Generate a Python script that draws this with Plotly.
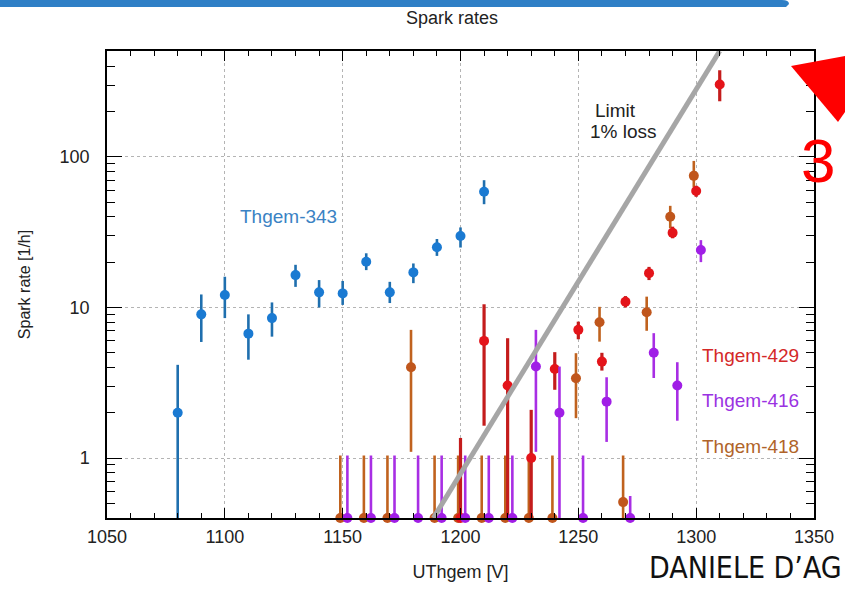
import plotly.graph_objects as go

# ---- measured spark rates [1/h] vs THGEM voltage [V] ----
# Thgem-343
v_343 = [1080, 1090, 1100, 1110, 1120, 1130, 1140, 1150, 1160, 1170, 1180, 1190, 1200, 1210]
rate_343 = [2.0, 9.0, 12.1, 6.7, 8.5, 16.4, 12.6, 12.4, 20.1, 12.6, 17.1, 25.1, 29.8, 58.6]
hi_343 = [4.16, 12.2, 16.0, 9.0, 10.8, 19.2, 15.2, 15.0, 22.9, 14.8, 19.6, 28.5, 34.0, 70.0]
lo_343 = [0.4, 5.9, 8.5, 4.5, 6.4, 13.7, 10.0, 10.4, 17.7, 10.7, 14.5, 22.0, 25.0, 48.5]

# Thgem-429
v_429 = [1200, 1210, 1220, 1230, 1240, 1250, 1260, 1270, 1280, 1290, 1300, 1310]
rate_429 = [0.4, 6.0, 3.03, 1.0, 3.9, 7.1, 4.37, 10.9, 16.9, 31.3, 59.3, 302]
hi_429 = [1.36, 10.5, 6.25, 2.09, 5.05, 8.05, 5.0, 11.9, 18.6, 34.4, 64.3, 376]
lo_429 = [0.4, 1.64, 0.4, 0.4, 2.84, 6.15, 3.81, 10.0, 15.2, 28.8, 54.3, 234]

# Thgem-418
v_418 = [1149, 1159, 1169, 1179, 1189, 1199, 1209, 1219, 1229, 1239, 1249, 1259, 1269, 1279, 1289, 1299]
rate_418 = [0.4, 0.4, 0.4, 4.01, 0.4, 0.4, 0.4, 0.4, 0.4, 0.4, 3.39, 7.98, 0.51, 9.3, 40.0, 74.8]
hi_418 = [1.04, 1.04, 1.04, 7.1, 1.04, 1.04, 1.04, 1.04, 1.04, 1.04, 4.97, 10.1, 1.04, 11.8, 47.3, 94.0]
lo_418 = [0.4, 0.4, 0.4, 1.1, 0.4, 0.4, 0.4, 0.4, 0.4, 0.4, 1.84, 5.93, 0.4, 7.0, 33.5, 63.0]

# Thgem-416
v_416 = [1152, 1162, 1172, 1182, 1192, 1202, 1212, 1222, 1232, 1242, 1252, 1262, 1272, 1282, 1292, 1302]
rate_416 = [0.4, 0.4, 0.4, 0.4, 0.4, 0.4, 0.4, 0.4, 4.05, 2.0, 0.4, 2.37, 0.4, 5.01, 3.03, 24.1]
hi_416 = [1.04, 1.04, 1.04, 1.04, 1.04, 1.04, 1.04, 1.04, 7.1, 4.05, 1.04, 3.44, 0.56, 6.75, 4.33, 28.0]
lo_416 = [0.4, 0.4, 0.4, 0.4, 0.4, 0.4, 0.4, 0.4, 1.1, 0.4, 0.4, 1.28, 0.4, 3.4, 1.77, 20.0]

# 1% loss limit line
limit_v = [1188.5, 1310]
limit_rate = [0.4, 505]

x_ticks = [1050, 1100, 1150, 1200, 1250, 1300, 1350]
y_ticks = [1, 10, 100]
y_tick_text = ["1", "10", "100"]

FONT = "Liberation Sans, Arial, sans-serif"

# plot-area geometry in pixels, used to place decorations in paper coords
W, H = 845, 591
L, R, T, B = 107, 814, 51, 518


def px(xp):
    return (xp - L) / (R - L)


def py(yp):
    return (B - yp) / (B - T)


def series(v, r, hi, lo, mcolor, ecolor, thick, name):
    return go.Scatter(
        x=v, y=r, mode="markers", name=name, cliponaxis=False,
        marker=dict(color=mcolor, size=10, symbol="circle"),
        error_y=dict(type="data", symmetric=False,
                     array=[h - y for h, y in zip(hi, r)],
                     arrayminus=[y - l for y, l in zip(r, lo)],
                     color=ecolor, thickness=thick, width=0),
        showlegend=False,
    )


fig = go.Figure()
fig.add_trace(series(v_418, rate_418, hi_418, lo_418, "#c0561c", "#c0621e", 2.6, "Thgem-418"))
fig.add_trace(series(v_429, rate_429, hi_429, lo_429, "#e4141a", "#c41c1c", 3.2, "Thgem-429"))
fig.add_trace(series(v_416, rate_416, hi_416, lo_416, "#a01ee6", "#a82ee4", 2.6, "Thgem-416"))
fig.add_trace(series(v_343, rate_343, hi_343, lo_343, "#1a7ad2", "#1f6fae", 2.6, "Thgem-343"))
fig.add_trace(go.Scatter(x=limit_v, y=limit_rate, mode="lines",
                         line=dict(color="#a6a6a6", width=5), showlegend=False))

minor_y = [m * 10 ** e for e in (-1, 0, 1, 2) for m in range(2, 10) if 0.4 <= m * 10 ** e <= 505]

axis_common = dict(
    showline=True, linecolor="black", linewidth=1.5, mirror="allticks",
    ticks="inside", tickcolor="black", tickwidth=1.2,
    showgrid=True, gridcolor="#b4b4b4", griddash="dot", gridwidth=1,
    zeroline=False, tickfont=dict(family=FONT, size=18, color="#222"),
)

fig.update_xaxes(
    range=[1050, 1350], tickvals=x_ticks, ticklen=10,
    minor=dict(dtick=10, tick0=1050, ticks="inside", ticklen=5, tickcolor="black", showgrid=False),
    title=dict(text="UThgem [V]", font=dict(family=FONT, size=18, color="#222"), standoff=19),
    ticklabelstandoff=2,
    **axis_common,
)
fig.update_yaxes(
    type="log", range=[-0.398, 2.703], tickvals=y_ticks, ticktext=y_tick_text, ticklen=15,
    minor=dict(tickvals=minor_y, ticks="inside", ticklen=8, tickcolor="black", showgrid=False),
    title=dict(text="Spark rate [1/h]", font=dict(family=FONT, size=16, color="#222"), standoff=25),
    ticklabelstandoff=12,
    **axis_common,
)

annotations = [
    dict(text="Spark rates", x=px(452), y=py(18), font=dict(size=18, color="#222")),
    dict(text="Limit", x=px(615), y=py(111), font=dict(size=19, color="#222")),
    dict(text="1% loss", x=px(623), y=py(131), font=dict(size=19, color="#222")),
    dict(text="Thgem-343", x=px(288), y=py(216), font=dict(size=19, color="#3a82c4")),
    dict(text="Thgem-429", x=px(750), y=py(355), font=dict(size=19, color="#d42828")),
    dict(text="Thgem-416", x=px(750), y=py(400), font=dict(size=19, color="#9a32e2")),
    dict(text="Thgem-418", x=px(750), y=py(446), font=dict(size=19, color="#b0642a")),
    dict(text="3", x=px(818), y=py(160), font=dict(size=62, color="#ff0000")),
    dict(text="DANIELE D’AG", x=px(647), y=py(567), xanchor="left",
         font=dict(family="DejaVu Sans Condensed, Liberation Sans Narrow, Liberation Sans, sans-serif",
                   size=30, color="#111")),
]
for a in annotations:
    a.update(xref="paper", yref="paper", showarrow=False)
    a.setdefault("xanchor", "center")
    a["yanchor"] = "middle"
    a["font"].setdefault("family", FONT)

# top banner stripe and red pointer arrow
band = f"M {px(0)} {py(0)} L {px(782)} {py(0)} Q {px(789)} {py(0)} {px(789)} {py(4)} L {px(786)} {py(7)} L {px(0)} {py(7)} Z"
arrow = f"M {px(791)} {py(66)} L {px(845)} {py(56)} L {px(845)} {py(112)} L {px(838)} {py(122)} Z"
shapes = [
    dict(type="path", path=band, xref="paper", yref="paper", fillcolor="#2f7fc6", line=dict(width=0)),
    dict(type="path", path=arrow, xref="paper", yref="paper", fillcolor="#ff0000", line=dict(width=0)),
]

fig.update_layout(
    width=W, height=H,
    margin=dict(l=L, r=W - R, t=T, b=H - B, pad=0),
    paper_bgcolor="white", plot_bgcolor="white",
    font=dict(family=FONT),
    annotations=annotations, shapes=shapes,
)

fig.write_html("out.html")
